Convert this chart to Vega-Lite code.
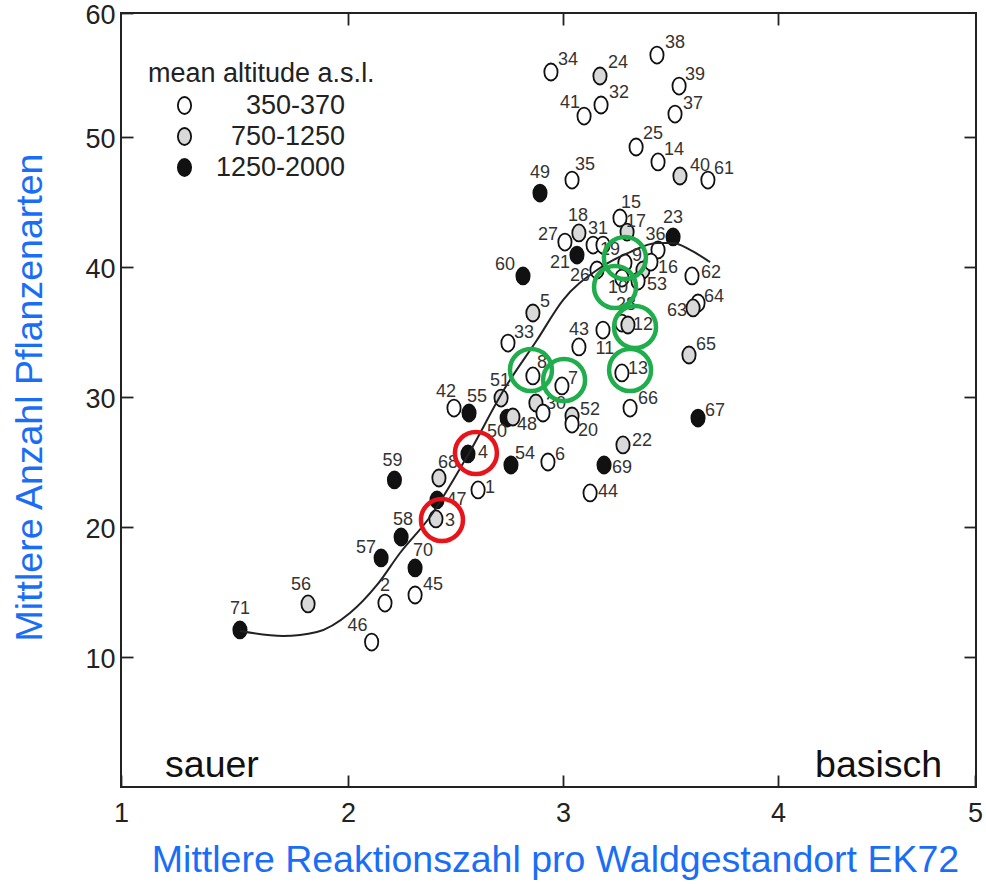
{
 "$schema": "https://vega.github.io/schema/vega-lite/v6.json",
 "width": 855,
 "height": 774,
 "autosize": {"type": "none"},
 "padding": {"left": 121, "top": 13, "right": 10, "bottom": 97},
 "background": "white",
 "config": {
  "font": "Liberation Sans",
  "view": {"stroke": "#222", "strokeWidth": 2},
  "axis": {"grid": false, "domain": false, "tickColor": "#222", "tickWidth": 1.8, "tickSize": -12,
   "labelFont": "Liberation Sans", "labelFontSize": 27, "labelColor": "#222",
   "titleFont": "Liberation Sans", "titleFontSize": 37.5, "titleFontWeight": "normal", "titleColor": "#1a6ef5"}
 },
 "datasets": {
  "points": [
   {"id":"34","alt":"350-370","x":2.944,"y":55.24,"lx":3.023,"ly":56.21},
   {"id":"24","alt":"750-1250","x":3.172,"y":54.92,"lx":3.256,"ly":55.97},
   {"id":"38","alt":"350-370","x":3.437,"y":56.61,"lx":3.521,"ly":57.58},
   {"id":"39","alt":"350-370","x":3.540,"y":54.11,"lx":3.614,"ly":55.0},
   {"id":"41","alt":"350-370","x":3.098,"y":51.69,"lx":3.033,"ly":52.74},
   {"id":"32","alt":"350-370","x":3.177,"y":52.58,"lx":3.260,"ly":53.55},
   {"id":"37","alt":"350-370","x":3.521,"y":51.85,"lx":3.605,"ly":52.66},
   {"id":"25","alt":"350-370","x":3.340,"y":49.23,"lx":3.419,"ly":50.24},
   {"id":"14","alt":"350-370","x":3.442,"y":48.08,"lx":3.516,"ly":49.0},
   {"id":"40","alt":"750-1250","x":3.544,"y":47.0,"lx":3.637,"ly":47.77},
   {"id":"61","alt":"350-370","x":3.674,"y":46.69,"lx":3.749,"ly":47.54},
   {"id":"35","alt":"350-370","x":3.042,"y":46.69,"lx":3.102,"ly":47.85},
   {"id":"49","alt":"1250-2000","x":2.893,"y":45.69,"lx":2.893,"ly":47.23},
   {"id":"15","alt":"350-370","x":3.265,"y":43.77,"lx":3.316,"ly":44.92},
   {"id":"18","alt":"750-1250","x":3.074,"y":42.62,"lx":3.070,"ly":43.92},
   {"id":"27","alt":"350-370","x":3.009,"y":41.92,"lx":2.930,"ly":42.46},
   {"id":"31","alt":"350-370","x":3.140,"y":41.69,"lx":3.163,"ly":42.92},
   {"id":"21","alt":"1250-2000","x":3.065,"y":40.92,"lx":2.986,"ly":40.31},
   {"id":"17","alt":"750-1250","x":3.298,"y":42.69,"lx":3.340,"ly":43.5},
   {"id":"36","alt":"350-370","x":3.442,"y":41.31,"lx":3.43,"ly":42.45},
   {"id":"23","alt":"1250-2000","x":3.512,"y":42.31,"lx":3.512,"ly":43.77},
   {"id":"19","alt":"350-370","x":3.186,"y":41.69,"lx":3.219,"ly":41.31},
   {"id":"9","alt":"350-370","x":3.288,"y":40.31,"lx":3.344,"ly":40.85},
   {"id":"","alt":"750-1250","x":3.372,"y":39.77,"lx":3.372,"ly":39.77},
   {"id":"16","alt":"350-370","x":3.409,"y":40.38,"lx":3.488,"ly":39.92},
   {"id":"26","alt":"350-370","x":3.158,"y":39.77,"lx":3.079,"ly":39.31},
   {"id":"10","alt":"350-370","x":3.274,"y":39.15,"lx":3.256,"ly":38.38},
   {"id":"53","alt":"350-370","x":3.349,"y":38.92,"lx":3.437,"ly":38.62},
   {"id":"60","alt":"1250-2000","x":2.814,"y":39.31,"lx":2.730,"ly":40.15},
   {"id":"62","alt":"350-370","x":3.600,"y":39.31,"lx":3.688,"ly":39.54},
   {"id":"64","alt":"350-370","x":3.628,"y":37.23,"lx":3.702,"ly":37.69},
   {"id":"63","alt":"750-1250","x":3.605,"y":36.85,"lx":3.530,"ly":36.62},
   {"id":"5","alt":"750-1250","x":2.860,"y":36.46,"lx":2.916,"ly":37.31},
   {"id":"28","alt":"350-370","x":3.274,"y":35.69,"lx":3.293,"ly":37.08},
   {"id":"12","alt":"750-1250","x":3.302,"y":35.54,"lx":3.372,"ly":35.54},
   {"id":"11","alt":"350-370","x":3.186,"y":35.15,"lx":3.195,"ly":33.69},
   {"id":"43","alt":"350-370","x":3.074,"y":33.85,"lx":3.074,"ly":35.15},
   {"id":"33","alt":"350-370","x":2.744,"y":34.15,"lx":2.819,"ly":34.92},
   {"id":"65","alt":"750-1250","x":3.586,"y":33.23,"lx":3.665,"ly":34.0},
   {"id":"13","alt":"350-370","x":3.274,"y":31.85,"lx":3.349,"ly":32.15},
   {"id":"8","alt":"350-370","x":2.860,"y":31.62,"lx":2.902,"ly":32.62},
   {"id":"7","alt":"350-370","x":2.995,"y":30.85,"lx":3.047,"ly":31.38},
   {"id":"51","alt":"750-1250","x":2.712,"y":29.92,"lx":2.707,"ly":31.23},
   {"id":"","alt":"750-1250","x":2.874,"y":29.54,"lx":2.874,"ly":29.54},
   {"id":"30","alt":"350-370","x":2.907,"y":28.77,"lx":2.967,"ly":29.46},
   {"id":"42","alt":"350-370","x":2.493,"y":29.15,"lx":2.456,"ly":30.38},
   {"id":"55","alt":"1250-2000","x":2.563,"y":28.77,"lx":2.600,"ly":30.0},
   {"id":"50","alt":"1250-2000","x":2.740,"y":28.38,"lx":2.693,"ly":27.31},
   {"id":"48","alt":"750-1250","x":2.767,"y":28.46,"lx":2.833,"ly":27.85},
   {"id":"52","alt":"750-1250","x":3.042,"y":28.54,"lx":3.126,"ly":29.0},
   {"id":"20","alt":"350-370","x":3.042,"y":27.92,"lx":3.116,"ly":27.38},
   {"id":"66","alt":"350-370","x":3.312,"y":29.15,"lx":3.395,"ly":29.85},
   {"id":"67","alt":"1250-2000","x":3.628,"y":28.38,"lx":3.707,"ly":28.92},
   {"id":"22","alt":"750-1250","x":3.279,"y":26.31,"lx":3.367,"ly":26.62},
   {"id":"4","alt":"1250-2000","x":2.558,"y":25.62,"lx":2.628,"ly":25.69},
   {"id":"54","alt":"1250-2000","x":2.758,"y":24.77,"lx":2.823,"ly":25.62},
   {"id":"6","alt":"350-370","x":2.930,"y":25.0,"lx":2.986,"ly":25.54},
   {"id":"69","alt":"1250-2000","x":3.191,"y":24.77,"lx":3.274,"ly":24.54},
   {"id":"44","alt":"350-370","x":3.126,"y":22.62,"lx":3.209,"ly":22.69},
   {"id":"1","alt":"350-370","x":2.605,"y":22.85,"lx":2.660,"ly":23.0},
   {"id":"68","alt":"750-1250","x":2.423,"y":23.77,"lx":2.465,"ly":24.92},
   {"id":"59","alt":"1250-2000","x":2.216,"y":23.62,"lx":2.207,"ly":25.08},
   {"id":"47","alt":"1250-2000","x":2.414,"y":22.08,"lx":2.505,"ly":22.1},
   {"id":"3","alt":"750-1250","x":2.409,"y":20.62,"lx":2.474,"ly":20.5},
   {"id":"58","alt":"1250-2000","x":2.247,"y":19.23,"lx":2.256,"ly":20.54},
   {"id":"57","alt":"1250-2000","x":2.154,"y":17.62,"lx":2.084,"ly":18.38},
   {"id":"70","alt":"1250-2000","x":2.312,"y":16.85,"lx":2.349,"ly":18.15},
   {"id":"45","alt":"350-370","x":2.312,"y":14.77,"lx":2.395,"ly":15.54},
   {"id":"2","alt":"350-370","x":2.172,"y":14.15,"lx":2.172,"ly":15.46},
   {"id":"56","alt":"750-1250","x":1.824,"y":14.08,"lx":1.793,"ly":15.54},
   {"id":"46","alt":"350-370","x":2.110,"y":11.15,"lx":2.044,"ly":12.38},
   {"id":"71","alt":"1250-2000","x":1.524,"y":12.08,"lx":1.524,"ly":13.69}
  ],
  "curve": [
   {"x":1.524,"y":12.0},{"x":1.714,"y":11.62},{"x":1.863,"y":11.92},{"x":2.009,"y":13.38},
   {"x":2.135,"y":15.54},{"x":2.242,"y":18.0},{"x":2.381,"y":20.77},{"x":2.558,"y":25.54},
   {"x":2.730,"y":30.69},{"x":2.879,"y":34.38},{"x":3.0,"y":37.46},{"x":3.158,"y":39.77},
   {"x":3.312,"y":41.15},{"x":3.437,"y":41.85},{"x":3.512,"y":41.85},{"x":3.591,"y":41.31},
   {"x":3.684,"y":40.38}
  ],
  "rings": [
   {"x":3.288,"y":40.69,"c":"g"},{"x":3.242,"y":38.46,"c":"g"},{"x":3.335,"y":35.38,"c":"g"},
   {"x":3.312,"y":32.08,"c":"g"},{"x":2.851,"y":32.08,"c":"g"},{"x":3.005,"y":31.31,"c":"g"},
   {"x":2.595,"y":25.69,"c":"r"},{"x":2.437,"y":20.54,"c":"r"}
  ],
  "notes": [
   {"x":1.194,"y":0.77,"t":"sauer"},
   {"x":4.188,"y":0.77,"t":"basisch"}
  ]
 },
 "resolve": {"axis": {"x": "independent", "y": "independent"}},
 "layer": [
  {
   "data": {"name": "points"},
   "mark": {"type": "point", "shape": "M -0.78 0 A 0.78 1 0 1 0 0.78 0 A 0.78 1 0 1 0 -0.78 0 Z", "filled": true, "size": 289, "stroke": "#111", "strokeWidth": 1.8, "opacity": 1},
   "encoding": {
    "x": {"field": "x", "type": "quantitative", "scale": {"domain": [1,2,4,5], "range": [0,227,657,854], "nice": false, "zero": false},
     "axis": {"orient": "bottom", "values": [1,2,3,4,5], "title": "Mittlere Reaktionszahl pro Waldgestandort EK72", "labelPadding": 25, "labelFlush": false, "labelOverlap": false, "labelBound": false, "titleX": 434, "titleY": 73, "titleBaseline": "middle", "titleAnchor": "start", "titleAlign": "center"}},
    "y": {"field": "y", "type": "quantitative", "scale": {"domain": [0,50,60], "range": [774,124,0], "nice": false, "zero": false},
     "axis": {"orient": "left", "values": [10,20,30,40,50,60], "title": "Mittlere Anzahl Pflanzenarten", "labelPadding": 18, "labelOffset": 2, "labelOverlap": false, "labelBound": false, "titleX": -91, "titleY": 384, "titleAngle": -90, "titleBaseline": "middle", "titleAlign": "center", "titleAnchor": "start"}},
    "fill": {"field": "alt", "type": "nominal", "scale": {"domain": ["350-370","750-1250","1250-2000"], "range": ["#ffffff","#d9d9d9","#111111"]},
     "legend": {"orient": "none", "legendX": 27, "legendY": 48, "title": "mean altitude a.s.l.", "titleFontSize": 27, "titleFont": "Liberation Sans", "titleFontWeight": "normal", "titleColor": "#222", "titlePadding": 4, "titleLimit": 500,
      "labelFontSize": 27, "labelFont": "Liberation Sans", "labelColor": "#222", "labelAlign": "right", "labelOffset": 147, "labelLimit": 300,
      "symbolType": "M -0.78 0 A 0.78 1 0 1 0 0.78 0 A 0.78 1 0 1 0 -0.78 0 Z", "symbolSize": 289, "symbolStrokeColor": "#111", "symbolStrokeWidth": 1.8, "symbolOffset": 23, "rowPadding": 3, "padding": 0}}
   }
  },
  {
   "data": {"name": "curve"},
   "mark": {"type": "line", "interpolate": "monotone", "color": "#222", "strokeWidth": 2},
   "encoding": {
    "x": {"field": "x", "type": "quantitative", "scale": {"domain": [1,2,4,5], "range": [0,227,657,854], "nice": false, "zero": false},
     "axis": {"orient": "top", "values": [2,3,4], "labels": false, "title": null}},
    "y": {"field": "y", "type": "quantitative", "scale": {"domain": [0,50,60], "range": [774,124,0], "nice": false, "zero": false},
     "axis": {"orient": "right", "values": [10,20,30,40,50], "labels": false, "title": null}}
   }
  },
  {
   "data": {"name": "points"},
   "mark": {"type": "text", "fontSize": 18, "color": "#333", "align": "center", "baseline": "middle"},
   "encoding": {
    "x": {"field": "lx", "type": "quantitative", "scale": {"domain": [1,2,4,5], "range": [0,227,657,854], "nice": false, "zero": false}, "axis": null},
    "y": {"field": "ly", "type": "quantitative", "scale": {"domain": [0,50,60], "range": [774,124,0], "nice": false, "zero": false}, "axis": null},
    "text": {"field": "id"}
   }
  },
  {
   "data": {"name": "rings"},
   "mark": {"type": "point", "shape": "circle", "filled": false, "size": 1764, "strokeWidth": 4.5, "opacity": 1},
   "encoding": {
    "x": {"field": "x", "type": "quantitative", "scale": {"domain": [1,2,4,5], "range": [0,227,657,854], "nice": false, "zero": false}, "axis": null},
    "y": {"field": "y", "type": "quantitative", "scale": {"domain": [0,50,60], "range": [774,124,0], "nice": false, "zero": false}, "axis": null},
    "stroke": {"field": "c", "type": "nominal", "scale": {"domain": ["g","r"], "range": ["#1fae4b","#e8141c"]}, "legend": null}
   }
  },
  {
   "data": {"name": "notes"},
   "mark": {"type": "text", "fontSize": 37.5, "color": "#111", "align": "left", "baseline": "alphabetic"},
   "encoding": {
    "x": {"field": "x", "type": "quantitative", "scale": {"domain": [1,2,4,5], "range": [0,227,657,854], "nice": false, "zero": false}, "axis": null},
    "y": {"field": "y", "type": "quantitative", "scale": {"domain": [0,50,60], "range": [774,124,0], "nice": false, "zero": false}, "axis": null},
    "text": {"field": "t"}
   }
  }
 ]
}
